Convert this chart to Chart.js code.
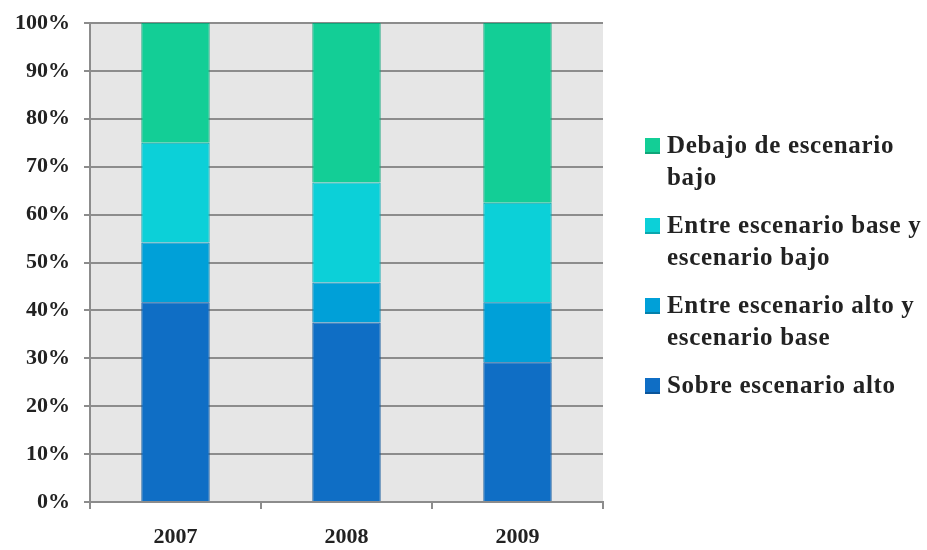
<!DOCTYPE html>
<html>
<head>
<meta charset="utf-8">
<script src="https://cdn.jsdelivr.net/npm/chart.js@4"></script>
<style>
  body { margin: 0; background: #fff; }
  #wrap { position: relative; width: 927px; height: 550px; }
  #legend {
    position: absolute; left: 645px; top: 129px; margin: 0; padding: 0;
    list-style: none; font-family: 'Liberation Serif', serif; font-weight: bold;
    font-size: 25px; letter-spacing: 0.7px; line-height: 32px; color: #222;
  }
  #legend li { display: flex; align-items: flex-start; margin-bottom: 16px; }
  #legend .box { width: 15px; height: 14px; margin: 9px 7px 0 0; flex: none; }
  #legend .txt { width: 266px; }
</style>
</head>
<body>
<div id="wrap">
  <canvas id="escenarios" width="927" height="550"></canvas>
  <ul id="legend"></ul>
</div>
<script>
const years = ['2007', '2008', '2009'];
const sobreAlto = [41.7, 37.5, 29.2];
const altoBase = [12.5, 8.3, 12.5];
const baseBajo = [20.8, 20.9, 20.8];
const debajoBajo = [25.0, 33.3, 37.5];
const yTicks = [0, 10, 20, 30, 40, 50, 60, 70, 80, 90, 100];

const seriesNames = [
  'Sobre escenario alto',
  'Entre escenario alto y escenario base',
  'Entre escenario base y escenario bajo',
  'Debajo de escenario bajo'
];
const fills = ['#0f6ec5', '#00a0d8', '#0cd0d8', '#13ce96'];
const edges = ['#0b559a', '#0480aa', '#0aa6ad', '#0fa579'];

const gridGray = '#8c8c8c';
const tickFont = { family: "'Liberation Serif', serif", weight: 'bold', size: 22 };

// grey plot background behind the grid
const plotBg = {
  id: 'plotBg',
  beforeDraw(chart) {
    const { ctx, chartArea: a } = chart;
    ctx.save();
    ctx.fillStyle = '#e6e6e6';
    ctx.fillRect(a.left, a.top, a.right - a.left, a.bottom - a.top);
    ctx.restore();
  }
};

const values = [sobreAlto, altoBase, baseBajo, debajoBajo];

new Chart(document.getElementById('escenarios'), {
  type: 'bar',
  data: {
    labels: years,
    datasets: values.map((data, i) => ({
      label: seriesNames[i],
      data,
      backgroundColor: fills[i],
      borderColor: edges[i],
      borderWidth: 1,
      barPercentage: 0.4,
      categoryPercentage: 1.0
    }))
  },
  options: {
    responsive: false,
    animation: false,
    layout: { padding: { top: 23, right: 324, left: 0, bottom: 0 } },
    plugins: { legend: { display: false }, tooltip: { enabled: false } },
    scales: {
      x: {
        stacked: true,
        grid: { offset: true, drawOnChartArea: false, tickLength: 7, color: gridGray, lineWidth: 2 },
        border: { color: gridGray, width: 2 },
        ticks: { font: tickFont, color: '#222', padding: 15 },
        afterFit(scale) {
          scale.height = 48;
          scale.paddingLeft = 0;
          scale.paddingRight = 0;
        }
      },
      y: {
        stacked: true,
        min: 0,
        max: 100,
        afterBuildTicks(scale) { scale.ticks = yTicks.map(v => ({ value: v })); },
        ticks: { font: tickFont, color: '#222', padding: 14, callback: v => v + '%' },
        grid: { color: gridGray, lineWidth: 2, tickLength: 6 },
        border: { color: gridGray, width: 2 },
        afterFit(scale) {
          scale.width = 90;
          scale.paddingTop = 0;
          scale.paddingBottom = 0;
        }
      }
    }
  },
  plugins: [plotBg]
});

// legend on the right, top series first
const legendEl = document.getElementById('legend');
legendEl.innerHTML = seriesNames.map((name, i) => `
  <li><span class="box" style="background:${fills[i]};border-bottom:2px solid ${edges[i]}"></span><span class="txt">${name}</span></li>
`).reverse().join('');
</script>
</body>
</html>
